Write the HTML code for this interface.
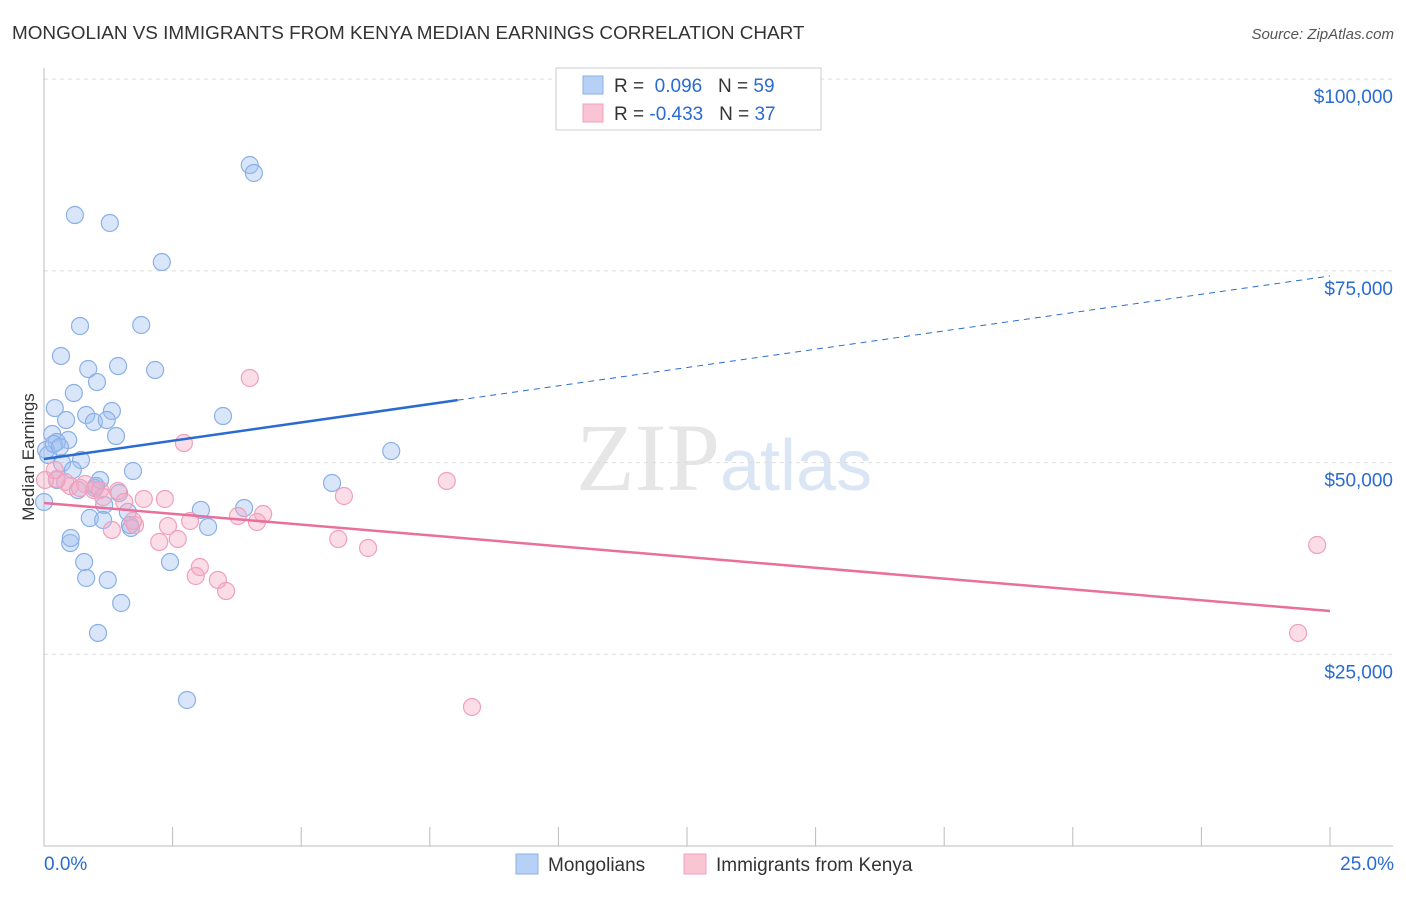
<!DOCTYPE html>
<html><head><meta charset="utf-8"><style>
body{margin:0;background:#fff;font-family:"Liberation Sans",sans-serif;}
</style></head><body>
<svg width="1406" height="892" xmlns="http://www.w3.org/2000/svg" id="svg" font-family="Liberation Sans, sans-serif">
<text x="12" y="39" font-size="18.9" fill="#333">MONGOLIAN VS IMMIGRANTS FROM KENYA MEDIAN EARNINGS CORRELATION CHART</text>
<text x="1394" y="39" font-size="15" fill="#555" text-anchor="end" font-style="italic">Source: ZipAtlas.com</text>
<text transform="translate(34,457) rotate(-90)" font-size="17" fill="#333" text-anchor="middle">Median Earnings</text>
<text x="720" y="490" font-size="96" fill="#e6e6e6" text-anchor="end" font-family="Liberation Serif, serif">ZIP</text>
<text x="720" y="490" font-size="72" fill="#dbe6f5">atlas</text>
<g id="grid"></g><g id="marks"></g>
<g>
<rect x="556" y="68" width="265" height="62" fill="#fff" stroke="#ccc"/>
<rect x="583" y="76" width="20" height="18" fill="#b7d0f5" stroke="#8ab0e8"/>
<rect x="583" y="104" width="20" height="18" fill="#f9c5d5" stroke="#f0a0bc"/>
<text x="614" y="92" font-size="19" fill="#333">R = <tspan fill="#2a6bd1">&#160;0.096</tspan>&#160;&#160;&#160;N = <tspan fill="#2a6bd1">59</tspan></text>
<text x="614" y="120" font-size="19" fill="#333">R = <tspan fill="#2a6bd1">-0.433</tspan>&#160;&#160;&#160;N = <tspan fill="#2a6bd1">37</tspan></text>
</g>
<g>
<rect x="516" y="854" width="22" height="20" fill="#b7d0f5" stroke="#8ab0e8"/>
<text x="548" y="871" font-size="19" fill="#333">Mongolians</text>
<rect x="684" y="854" width="22" height="20" fill="#f9c5d5" stroke="#f0a0bc"/>
<text x="716" y="871" font-size="19" fill="#333">Immigrants from Kenya</text>
</g>
</svg>
<script>
const yTicks=[25000,50000,75000,100000];
const yTickLabels=["$25,000","$50,000","$75,000","$100,000"];
const blueX=[4.00,4.08,0.60,1.28,2.29,0.70,1.89,0.33,0.86,1.44,2.16,1.03,0.58,0.21,1.32,0.82,0.43,0.97,1.22,3.48,1.40,0.16,0.47,0.25,6.75,0.72,0.35,0.56,1.73,0.04,1.09,5.60,0.25,0.66,0.99,1.46,1.17,3.89,3.05,1.63,0.89,1.15,1.69,3.19,0.51,0.52,0.78,2.45,0.82,1.24,1.50,1.05,2.78,0.0,0.08,0.19,0.31,1.01,1.67];
const blueY=[88800,87760,82280,81240,76150,67810,67940,63900,62200,62590,62070,60500,59070,57110,56720,56200,55550,55290,55550,56070,53460,53720,52940,52680,51500,50330,49940,49030,48900,51640,47730,47340,47730,46420,46680,46030,44470,44080,43820,43560,42770,42510,41470,41600,39510,40160,37030,37030,34950,34690,31690,27780,19040,44860,50990,52420,52030,46940,41860];
const pinkX=[4.00,2.72,7.83,5.83,0.25,0.51,0.80,0.97,1.09,1.44,1.94,2.35,1.56,1.32,1.77,2.41,2.84,3.77,4.26,4.14,2.60,2.24,5.72,6.30,3.03,2.95,3.38,3.54,24.75,24.38,8.32,0.41,0.70,1.15,1.73,0.02,0.21];
const pinkY=[61030,52550,47600,45640,47860,46940,47200,46420,46420,46290,45250,45250,44860,41210,41860,41730,42380,43030,43290,42250,40030,39640,40030,38860,36380,35210,34690,33250,39250,27780,18130,47470,46680,45510,42380,47730,49030];
const blueTrend=[50460,74330], pinkTrend=[44730,30640], blueSolidEnd=8.04;
const NS="http://www.w3.org/2000/svg";
const sx=v=>44+v*51.44, sy=v=>846-v/130.4;
function mk(t,a,p){const e=document.createElementNS(NS,t);for(const k in a)e.setAttribute(k,a[k]);p.appendChild(e);return e;}
const g=document.getElementById('grid'), m=document.getElementById('marks');
yTicks.forEach((t,i)=>{
 const l=mk('line',{x1:44,x2:1393,y1:sy(t),y2:sy(t),stroke:'#ddd','stroke-dasharray':'4,4'},g);
 
 
 const tx=mk('text',{x:1393,y:sy(t)+24,'font-size':19,fill:'#2a6bd1','text-anchor':'end'},g);
 tx.textContent=yTickLabels[i];
 
 
});
mk('line',{x1:44,x2:44,y1:68,y2:846,stroke:'#bbb'},g);
mk('line',{x1:44,x2:1393,y1:846,y2:846,stroke:'#bbb'},g);
for(let i=1;i<=10;i++){const x=sx(i*2.5);mk('line',{x1:x,x2:x,y1:827,y2:846,stroke:'#bbb'},g);}
const x0=mk('text',{x:44,y:870,'font-size':19,fill:'#2a6bd1'},g);x0.textContent='0.0%';

const x1=mk('text',{x:1394,y:870,'font-size':19,fill:'#2a6bd1','text-anchor':'end'},g);x1.textContent='25.0%';

function dots(X,Y,f,s,n){X.forEach((x,i)=>{const c=mk('circle',{cx:sx(x),cy:sy(Y[i]),r:8.5,fill:f,stroke:s,'stroke-width':1.2},m);
 
 });}
dots(blueX,blueY,'rgba(160,192,240,0.4)','#8ab0e8','mongolian-point');
dots(pinkX,pinkY,'rgba(245,170,196,0.4)','#f0a0bc','kenya-point');
const by=x=>blueTrend[0]+(blueTrend[1]-blueTrend[0])*x/25;
let l=mk('line',{x1:sx(0),y1:sy(by(0)),x2:sx(blueSolidEnd),y2:sy(by(blueSolidEnd)),stroke:'#2a6bd1','stroke-width':2.5},m);

l=mk('line',{x1:sx(blueSolidEnd),y1:sy(by(blueSolidEnd)),x2:sx(25),y2:sy(by(25)),stroke:'#2a6bd1','stroke-width':1,'stroke-dasharray':'6,5'},m);

l=mk('line',{x1:sx(0),y1:sy(pinkTrend[0]),x2:sx(25),y2:sy(pinkTrend[1]),stroke:'#e8709a','stroke-width':2.5},m);

</script>
</body></html>
